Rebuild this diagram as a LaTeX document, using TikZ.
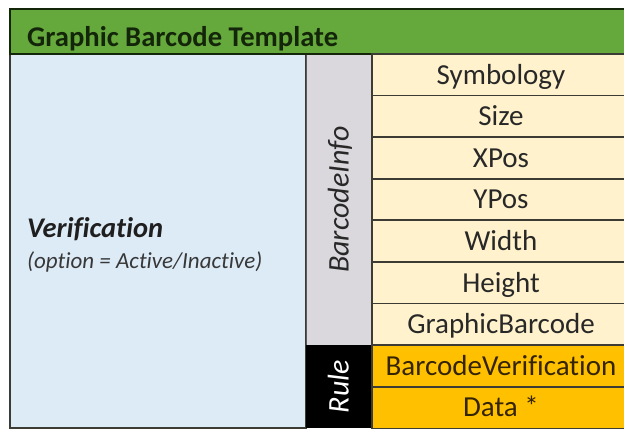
\documentclass[tikz,border=0pt]{standalone}
\usepackage{fontspec}
\setmainfont[Ligatures=NoCommon]{Carlito}
\definecolor{hdrgreen}{HTML}{65A83C}
\definecolor{hdrtext}{HTML}{14260A}
\definecolor{paleblue}{HTML}{DDEBF7}
\definecolor{palegray}{HTML}{DAD8DC}
\definecolor{paleyellow}{HTML}{FFF2CC}
\definecolor{amber}{HTML}{FFC000}
\definecolor{gridline}{HTML}{3C3C34}
\definecolor{celltext}{HTML}{282828}
\definecolor{ambertext}{HTML}{352400}
\begin{document}
\begin{tikzpicture}[x=1pt,y=-1pt,
  box/.style={rectangle, inner sep=0pt, outer sep=0pt, anchor=north west},
  ycell/.style={box, fill=paleyellow, draw=gridline, line width=1.8pt,
     minimum width=258pt, minimum height=41.6pt},
  acell/.style={box, fill=amber, draw=gridline, line width=1.8pt,
     minimum width=258pt, minimum height=41.6pt},
  celllabel/.style={font=\fontsize{29}{32}\selectfont, text=celltext,
     inner sep=0pt, text height=18.6pt, text depth=0pt},
  amberlabel/.style={celllabel, text=ambertext},
  sidelabel/.style={celllabel, rotate=90, text height=19.2pt, font=\itshape\fontsize{30}{32}\selectfont}
]
\useasboundingbox (0,0) rectangle (624,430);
\fill[white] (0,0) rectangle (624,430);
% left blue area
\node[box, fill=paleblue, draw=gridline, line width=2pt, minimum width=296pt, minimum height=374pt] (blue) at (10,54) {};
% gray BarcodeInfo column
\node[box, fill=palegray, draw=gray!70!black, line width=1pt, minimum width=66pt, minimum height=291.2pt] (info) at (306,54) {};
% black Rule column
\node[box, fill=black, minimum width=66pt, minimum height=83.2pt] (rule) at (306,345.2) {};
% header
\node[box, fill=hdrgreen, draw=hdrtext, line width=2.2pt, minimum width=622pt, minimum height=45pt] (hdr) at (10,9) {};
\node[anchor=base west, inner sep=0pt, font=\bfseries\fontsize{28.6}{30}\selectfont, text=hdrtext] (title) at (27,47) {Graphic Barcode Template};
% yellow cells
\node[ycell] (c1) at (372,54.0) {};
\node[ycell] (c2) at (372,95.6) {};
\node[ycell] (c3) at (372,137.2) {};
\node[ycell] (c4) at (372,178.8) {};
\node[ycell] (c5) at (372,220.4) {};
\node[ycell] (c6) at (372,262.0) {};
\node[ycell] (c7) at (372,303.6) {};
\node[acell] (c8) at (372,345.2) {};
\node[acell] (c9) at (372,386.8) {};
\node[celllabel] (t1) at (c1.center) {Symbology};
\node[celllabel] (t2) at (c2.center) {Size};
\node[celllabel] (t3) at (c3.center) {XPos};
\node[celllabel] (t4) at (c4.center) {YPos};
\node[celllabel] (t5) at (c5.center) {Width};
\node[celllabel] (t6) at (c6.center) {Height};
\node[celllabel] (t7) at (c7.center) {GraphicBarcode};
\node[amberlabel] (t8) at (c8.center) {BarcodeVerification};
\node[amberlabel] (t9) at (c9.center) {Data *};
% rotated labels
\node[sidelabel] (infolabel) at (info.center) {BarcodeInfo};
\node[sidelabel, text=white] (rulelabel) at (rule.center) {Rule};
% left text
\node[anchor=base west, inner sep=0pt, font=\bfseries\itshape\fontsize{28.5}{30}\selectfont, text=black!88] (verif) at (27,238) {Verification};
\node[anchor=base west, inner sep=0pt, font=\itshape\fontsize{23}{26}\selectfont, text=black!78] (opt) at (27,269) {(option = Active/Inactive)};
\end{tikzpicture}
\end{document}
